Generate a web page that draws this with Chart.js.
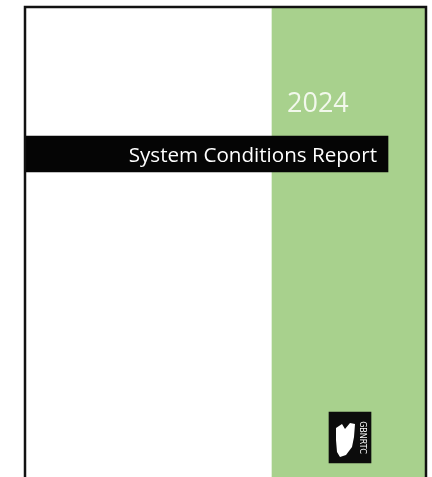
<!DOCTYPE html>
<html><head><meta charset="utf-8">
<script src="https://cdn.jsdelivr.net/npm/chart.js@4.4.1/dist/chart.umd.min.js"></script>
<style>html,body{margin:0;padding:0;background:#fff;}#wrap{width:432px;height:477px;position:relative;}</style>
</head><body><div id="wrap"><canvas id="c" width="432" height="477"></canvas></div>
<script>
// Cover elements (page units: x 0-432, y 0-477)
const yearLabel = ['2024'];
const titleLabel = ['System Conditions Report'];
const logoLabel = ['GBNRTC'];
const panelSpan = [[272, 425]];   // green side panel, x range
const panelMid = [242.5];
const bandSpan = [[26, 388]];     // black title band
const bandMid = [154];
const logoSpan = [[329, 371]];
const logoMid = [437.5];
const frameX = [25, 25, 426, 426];
const frameY = [478, 7, 7, 478];

const toPts = (spans, mids) => spans.map((s, i) => ({x: s, y: mids[i]}));

const textPlugin = {
  id: 'coverText',
  afterDatasetsDraw(chart) {
    const {ctx, scales:{x, y}} = chart;
    ctx.save();
    // year
    ctx.fillStyle = '#f2f8ec';
    ctx.font = '27px "Open Sans"';
    ctx.textBaseline = 'alphabetic';
    ctx.textAlign = 'left';
    ctx.fillText(yearLabel[0], x.getPixelForValue(287), y.getPixelForValue(112));
    // title
    ctx.fillStyle = '#ffffff';
    ctx.font = '20.6px "Open Sans"';
    ctx.textAlign = 'right';
    ctx.fillText(titleLabel[0], x.getPixelForValue(377), y.getPixelForValue(162));
    // logo silhouette
    const poly = [[336,428],[342,424],[345,429],[350,423],[355,424],[354,437],[352,447],[346,455],[340,457],[337,452],[336,440]];
    ctx.fillStyle = '#ffffff';
    ctx.beginPath();
    poly.forEach((p, i) => {
      const px = x.getPixelForValue(p[0]), py = y.getPixelForValue(p[1]);
      i ? ctx.lineTo(px, py) : ctx.moveTo(px, py);
    });
    ctx.closePath(); ctx.fill();
    ctx.translate(x.getPixelForValue(362), y.getPixelForValue(437.5));
    ctx.rotate(Math.PI / 2);
    ctx.font = '8px "DejaVu Sans"';
    ctx.textAlign = 'center';
    ctx.textBaseline = 'middle';
    ctx.fillText(logoLabel[0], 0, 0);
    ctx.restore();
  }
};

new Chart(document.getElementById('c'), {
  type: 'bar',
  data: {
    datasets: [
      {label: 'panel', data: toPts(panelSpan, panelMid), backgroundColor: '#a8d18d', barThickness: 469, grouped: false, order: 3},
      {label: 'band', data: toPts(bandSpan, bandMid), backgroundColor: '#050505', barThickness: 36, grouped: false, order: 2},
      {label: 'logo', data: toPts(logoSpan, logoMid), backgroundColor: '#0c0c0c', barThickness: 51, grouped: false, order: 1},
      {type: 'line', label: 'frame', data: frameX.map((v, i) => ({x: v, y: frameY[i]})), borderColor: '#111', borderWidth: 2.5, pointRadius: 0, fill: false, tension: 0, order: 0}
    ]
  },
  options: {
    indexAxis: 'y',
    responsive: false,
    animation: false,
    devicePixelRatio: 1,
    layout: {padding: 0},
    clip: false,
    plugins: {legend: {display: false}, tooltip: {enabled: false}},
    scales: {
      x: {type: 'linear', min: 0, max: 432, display: false, offset: false},
      y: {type: 'linear', min: 0, max: 477, reverse: true, display: false, offset: false, grid: {offset: false}}
    }
  },
  plugins: [textPlugin]
});
</script></body></html>
